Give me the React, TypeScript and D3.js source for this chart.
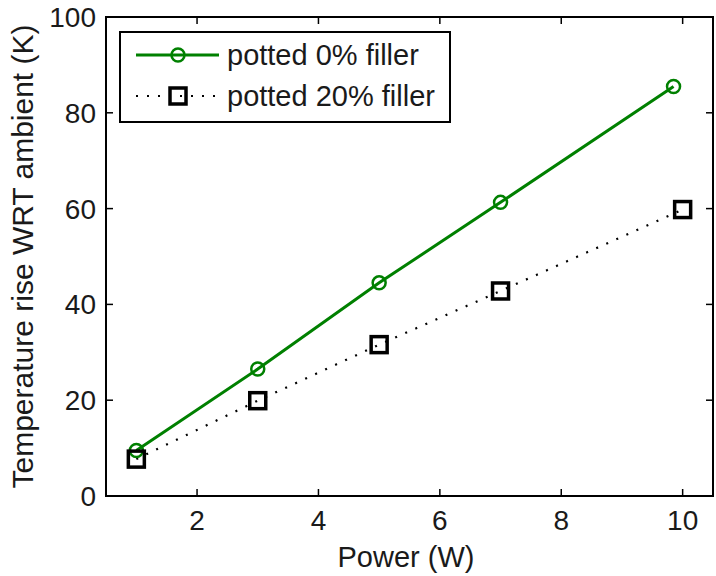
import React from "react";
import * as d3 from "d3";

const powerA = [1, 3, 5, 7, 9.85];
const riseA = [9.5, 26.5, 44.5, 61.3, 85.5];
const powerB = [1, 3, 5, 7, 10];
const riseB = [7.7, 19.9, 31.6, 42.8, 59.8];
const xTicks = [2, 4, 6, 8, 10];
const yTicks = [0, 20, 40, 60, 80, 100];
const legendLabels = ["potted 0% filler", "potted 20% filler"];

const W = 716;
const H = 576;
const left = 106;
const right = 713;
const top = 17;
const bottom = 496;
const font = "'Liberation Sans', Arial, sans-serif";
const green = "#008000";
const ink = "#1a1a1a";

export default function App() {
  const x = d3.scaleLinear().domain([0.5, 10.5]).range([left, right]);
  const y = d3.scaleLinear().domain([0, 100]).range([bottom, top]);

  const ptsA = powerA.map((p, i) => [p, riseA[i]] as [number, number]);
  const ptsB = powerB.map((p, i) => [p, riseB[i]] as [number, number]);
  const line = d3
    .line<[number, number]>()
    .x(d => x(d[0]))
    .y(d => y(d[1]));

  const tl = 7;

  return (
    <svg width={W} height={H} style={{ position: "absolute", left: 0, top: 0, background: "#fff" }}>
      <rect x={0} y={0} width={W} height={H} fill="#fff" />
      {/* ticks */}
      {xTicks.map(t => (
        <g key={`xt${t}`}>
          <line x1={x(t)} x2={x(t)} y1={bottom} y2={bottom - tl} stroke="#000" strokeWidth={1.5} />
          <line x1={x(t)} x2={x(t)} y1={top} y2={top + tl} stroke="#000" strokeWidth={1.5} />
          <text x={x(t)} y={530} textAnchor="middle" fontFamily={font} fontSize={28} fill={ink}>
            {t}
          </text>
        </g>
      ))}
      {yTicks.map(t => (
        <g key={`yt${t}`}>
          <line x1={left} x2={left + tl} y1={y(t)} y2={y(t)} stroke="#000" strokeWidth={1.5} />
          <line x1={right} x2={right - tl} y1={y(t)} y2={y(t)} stroke="#000" strokeWidth={1.5} />
          <text x={96} y={y(t) + 10} textAnchor="end" fontFamily={font} fontSize={28} fill={ink}>
            {t}
          </text>
        </g>
      ))}
      <rect x={left} y={top} width={right - left} height={bottom - top} fill="none" stroke="#000" strokeWidth={2} />

      {/* series */}
      <path d={line(ptsB) || ""} fill="none" stroke="#000" strokeWidth={2.2} strokeDasharray="2,9" />
      <path d={line(ptsA) || ""} fill="none" stroke={green} strokeWidth={3} />
      {ptsA.map((d, i) => (
        <circle key={`ca${i}`} cx={x(d[0])} cy={y(d[1])} r={6.5} fill="none" stroke={green} strokeWidth={2.5} />
      ))}
      {ptsB.map((d, i) => (
        <rect
          key={`sb${i}`}
          x={x(d[0]) - 8}
          y={y(d[1]) - 8}
          width={16}
          height={16}
          fill="none"
          stroke="#000"
          strokeWidth={3.5}
        />
      ))}

      {/* legend */}
      <rect x={120} y={32} width={330} height={90} fill="#fff" stroke="#000" strokeWidth={2} />
      <line x1={136} x2={219} y1={55} y2={55} stroke={green} strokeWidth={3} />
      <circle cx={178} cy={55} r={6.5} fill="none" stroke={green} strokeWidth={2.5} />
      <line x1={136} x2={219} y1={96} y2={96} stroke="#000" strokeWidth={2.2} strokeDasharray="2,9" />
      <rect x={170} y={88} width={16} height={16} fill="none" stroke="#000" strokeWidth={3.5} />
      <text x={227} y={65} fontFamily={font} fontSize={29} fill={ink}>
        {legendLabels[0]}
      </text>
      <text x={227} y={106} fontFamily={font} fontSize={29} fill={ink}>
        {legendLabels[1]}
      </text>

      {/* axis labels */}
      <text x={406} y={567} textAnchor="middle" fontFamily={font} fontSize={29} fill={ink}>
        Power (W)
      </text>
      <text
        transform={`translate(33, ${(top + bottom) / 2}) rotate(-90)`}
        textAnchor="middle"
        fontFamily={font}
        fontSize={30}
        fill={ink}
      >
        Temperature rise WRT ambient (K)
      </text>
    </svg>
  );
}
